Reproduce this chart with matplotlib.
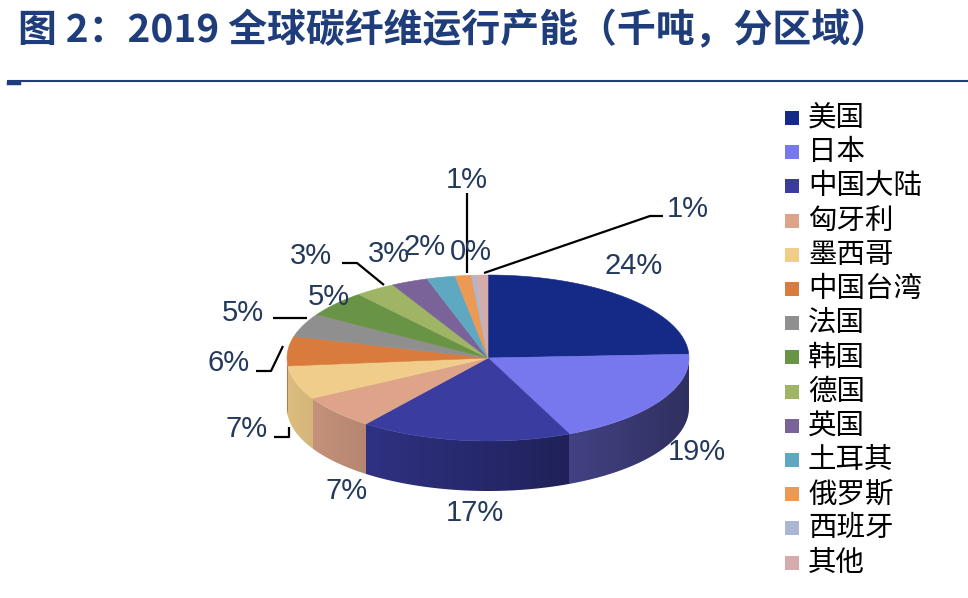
import numpy as np
import matplotlib
matplotlib.use('Agg')
import matplotlib.pyplot as plt
from matplotlib.patches import Polygon, Rectangle
from matplotlib.colors import to_rgb

# 2019 全球碳纤维运行产能（千吨）
regions = ['美国', '日本', '中国大陆', '匈牙利', '墨西哥', '中国台湾', '法国',
           '韩国', '德国', '英国', '土耳其', '俄罗斯', '西班牙', '其他']
capacity = [37.1, 29.2, 26.0, 10.0, 10.0, 8.75, 7.0,
            7.8, 5.0, 4.5, 3.5, 2.0, 0.5, 1.5]
colors = ['#142a86', '#7777ee', '#3a3ca0', '#dea48a', '#f0cd8a', '#d97b3d', '#8f8f8f',
          '#6a9445', '#9fb565', '#7a6399', '#5fa8c1', '#ea9a55', '#a9b7d3', '#d4acab']

# label text positions (pixels) and leader lines
label_pos = [(634, 266), (697, 452), (475, 513), (347, 491), (247, 429), (229, 363), (243, 313),
             (329, 297), (311, 256), (389, 254), (425, 247), (467, 180), (471, 252), (688, 209)]
leaders = {
    4: [(274, 437), (289, 437), (289, 427)],
    5: [(256, 371), (271, 371), (283, 346)],
    6: [(273, 318), (307, 318)],
    8: [(342, 263), (357, 263), (384, 285)],
    11: [(467, 193), (467, 273)],
    13: [(484, 273), (650, 216), (663, 216)],
}

W, H = 968, 598
fig = plt.figure(figsize=(W / 100, H / 100), dpi=100)
ax = fig.add_axes([0, 0, 1, 1])
ax.set_xlim(0, W)
ax.set_ylim(H, 0)
ax.axis('off')

# pie geometry
cx, cy, rx, ry, depth = 488, 358, 201, 83, 50


def pt(theta, dy=0):
    t = np.radians(theta)
    return cx + rx * np.sin(t), cy - ry * np.cos(t) + dy


vals = np.array(capacity)
frac = vals / vals.sum()
edges = np.concatenate([[0], np.cumsum(frac)]) * 360

# side wall: one shaded strip image clipped to the front rim
xs = np.linspace(cx - rx, cx + rx, 800)
s = np.clip((xs - cx) / rx, -1, 1)
theta = 180 - np.degrees(np.arcsin(s))
idx = np.clip(np.searchsorted(edges, theta) - 1, 0, len(colors) - 1)
shade = 0.66 - 0.26 * s
img = np.array([to_rgb(colors[k]) for k in idx]) * shade[:, None]
img = np.clip(img, 0, 1)[None, :, :]
front = np.linspace(90, 270, 300)
rim = [pt(t) for t in front] + [pt(t, depth) for t in front[::-1]]
clip = Polygon(rim, closed=True, facecolor='none', edgecolor='none')
ax.add_patch(clip)
im = ax.imshow(img, extent=(cx - rx, cx + rx, cy + ry + depth, cy - ry), aspect='auto',
               interpolation='nearest', zorder=1)
im.set_clip_path(clip)

# top face
for i, c in enumerate(colors):
    a = np.linspace(edges[i], edges[i + 1], max(3, int((edges[i + 1] - edges[i]) * 2)))
    poly = [(cx, cy)] + [pt(t) for t in a]
    ax.add_patch(Polygon(poly, closed=True, facecolor=c, edgecolor=c, lw=0.4, zorder=2))

# percentage labels
for i, (x, y) in enumerate(label_pos):
    ax.text(x, y, f'{frac[i] * 100:.0f}%', ha='center', va='center',
            fontsize=21, color='#24395c', family='Liberation Sans', zorder=4)

for pts in leaders.values():
    lx, ly = zip(*pts)
    ax.plot(lx, ly, color='black', lw=1.6, solid_capstyle='butt', zorder=3)

# legend
for i, (name, c) in enumerate(zip(regions, colors)):
    y = 118 + i * 34.2
    ax.add_patch(Rectangle((785, y - 7), 14, 14, facecolor=c, edgecolor='none'))
    ax.text(808, y, name, ha='left', va='center', fontsize=20.5,
            color='black', family='Noto Sans CJK SC')

# title and rule
ax.text(18, 31, '图 2：2019 全球碳纤维运行产能（千吨，分区域）', ha='left', va='center',
        fontsize=28, fontweight='bold', color='#1f3d7a', family='Noto Sans CJK SC')
ax.plot([8, W], [81, 81], color='#1f3d7a', lw=1.5)
ax.plot([8, 19], [83, 83], color='#1f3d7a', lw=2.5)

ax.set_xlim(0, W)
ax.set_ylim(H, 0)
fig.savefig('out.png', dpi=100)
